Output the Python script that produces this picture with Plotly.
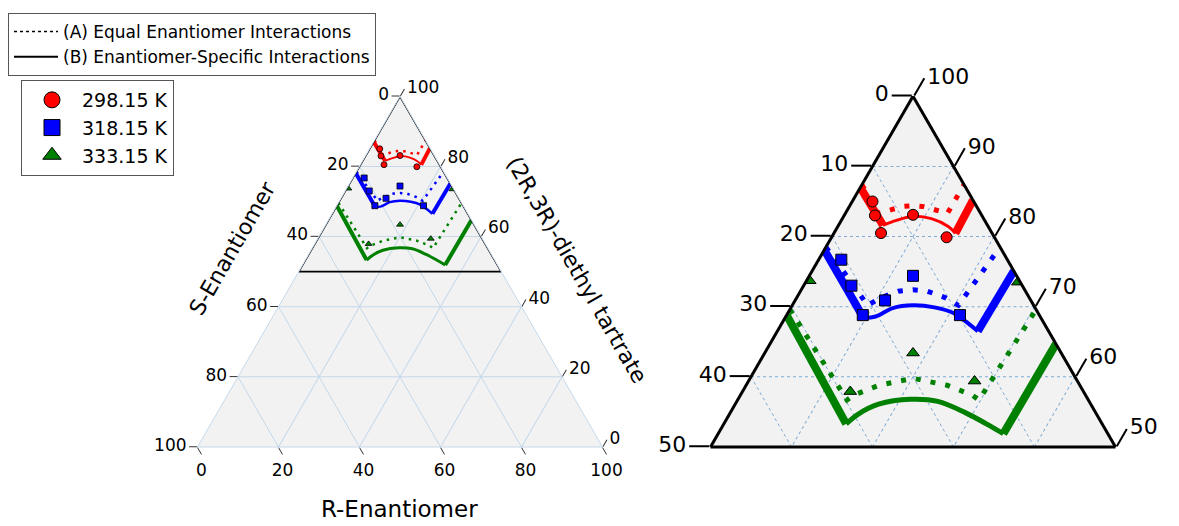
import plotly.graph_objects as go

# ---------------- data (mass %: (2R,3R)-diethyl tartrate, S-enantiomer, R-enantiomer) ----------------
# experimental points
pts298_tar = [85.0, 83.0, 80.5, 83.1, 79.9]
pts298_S = [12.5, 13.2, 13.7, 8.45, 5.9]
pts298_R = [2.5, 3.8, 5.8, 8.45, 14.2]

pts318_tar = [76.7, 73.0, 70.9, 68.8, 74.4, 68.8]
pts318_S = [20.5, 21.1, 18.0, 21.8, 12.8, 9.8]
pts318_R = [2.8, 5.9, 11.1, 9.4, 12.8, 21.4]

pts333_tar = [73.7, 73.5, 63.4, 57.9, 59.4]
pts333_S = [25.9, 0.3, 18.3, 28.8, 12.7]
pts333_R = [0.4, 26.2, 18.3, 13.3, 27.9]

# model (B) enantiomer-specific interactions: branches + middle curve
b298_branch_tar = [87.0, 81.6, None, 80.45, 85.2]
b298_branch_S = [13.0, 12.9, None, 4.55, 0.0]
b298_branch_R = [0.0, 5.5, None, 15.0, 14.8]
b298_mid_tar = [81.6, 82.3, 82.9, 82.55, 81.4, 80.45]
b298_mid_S = [12.9, 10.9, 8.55, 6.45, 4.9, 4.55]
b298_mid_R = [5.5, 6.8, 8.55, 11.0, 13.7, 15.0]

b318_branch_tar = [78.1, 68.4, None, 66.5, 75.1]
b318_branch_S = [21.9, 21.9, None, 8.75, 0.0]
b318_branch_R = [0.0, 9.7, None, 24.75, 24.9]
b318_mid_tar = [68.4, 68.6, 69.8, 70.2, 69.9, 69.1, 67.9, 66.5]
b318_mid_S = [21.9, 20.3, 17.6, 14.9, 12.4, 10.45, 9.55, 8.75]
b318_mid_R = [9.7, 11.1, 12.6, 14.9, 17.7, 20.45, 22.55, 24.75]

b333_branch_tar = [68.8, 53.3, None, 51.9, 64.7]
b333_branch_S = [31.2, 31.6, None, 12.9, 0.0]
b333_branch_R = [0.0, 15.1, None, 35.2, 35.3]
b333_mid_tar = [53.3, 54.7, 56.1, 56.8, 56.5, 54.9, 53.3, 51.9]
b333_mid_S = [31.6, 29.4, 26.2, 21.9, 18.7, 16.1, 14.3, 12.9]
b333_mid_R = [15.1, 15.9, 17.7, 21.3, 24.8, 29.0, 32.4, 35.2]

# model (A) equal enantiomer interactions (symmetric)
a298_tar = [87.4, 83.3, 83.9, 84.3, 84.4, 84.3, 83.9, 83.3, 87.4]
a298_S = [12.6, 12.6, 10.5, 9.0, 7.8, 6.7, 5.6, 4.1, 0.0]
a298_R = [0.0, 4.1, 5.6, 6.7, 7.8, 9.0, 10.5, 12.6, 12.6]

a318_tar = [78.5, 70.2, 71.3, 72.2, 72.4, 72.2, 71.3, 70.2, 78.5]
a318_S = [21.5, 20.5, 18.3, 15.7, 13.8, 12.1, 10.4, 9.3, 0.0]
a318_R = [0.0, 9.3, 10.4, 12.1, 13.8, 15.7, 18.3, 20.5, 21.5]

a333_tar = [69.6, 56.7, 57.4, 58.8, 59.8, 58.8, 57.4, 56.7, 69.6]
a333_S = [30.4, 29.8, 28.6, 24.8, 20.1, 16.4, 14.0, 13.5, 0.0]
a333_R = [0.0, 13.5, 14.0, 16.4, 20.1, 24.8, 28.6, 29.8, 30.4]

# zoom region outlined on the full diagram
zoom_tar = [100, 50, 50, 100]
zoom_S = [0, 50, 0, 0]
zoom_R = [0, 0, 50, 0]

# tick values (Plotly component value) and the labels shown for the component read along that edge
full_ticks = [0, 20, 40, 60, 80, 100]
full_labels = ["100", "80", "60", "40", "20", "0"]
zoom_a_ticks = [50, 60, 70, 80, 90, 100]
zoom_a_labels = ["50", "40", "30", "20", "10", "0"]     # S-enantiomer along left edge
zoom_c_ticks = [0, 10, 20, 30, 40, 50]
zoom_c_labels = ["100", "90", "80", "70", "60", "50"]   # tartrate along right edge

temps = ["298.15 K", "318.15 K", "333.15 K"]
colors = ["red", "blue", "green"]
symbols = ["circle", "square", "triangle-up"]

pts = [(pts298_tar, pts298_S, pts298_R), (pts318_tar, pts318_S, pts318_R), (pts333_tar, pts333_S, pts333_R)]
branches = [(b298_branch_tar, b298_branch_S, b298_branch_R), (b318_branch_tar, b318_branch_S, b318_branch_R),
            (b333_branch_tar, b333_branch_S, b333_branch_R)]
mids = [(b298_mid_tar, b298_mid_S, b298_mid_R), (b318_mid_tar, b318_mid_S, b318_mid_R),
        (b333_mid_tar, b333_mid_S, b333_mid_R)]
models_a = [(a298_tar, a298_S, a298_R), (a318_tar, a318_S, a318_R), (a333_tar, a333_S, a333_R)]

W, H = 1179, 526
OFF = 8  # page body margin
FONT = "DejaVu Sans"


def px(x):
    return (x - OFF) / W


def py(y):
    return 1 - (y - OFF) / H


fig = go.Figure()

styles = {
    "ternary": dict(branch_w=4, mid_w=[1.8, 2.5, 3], dot_w=2.5, dot_dash="2.5px,5px", msize=6, mline=0.8),
    "ternary2": dict(branch_w=8, mid_w=[3, 4, 5], dot_w=5, dot_dash="5px,10px", msize=11, mline=1),
}

for sp, st in styles.items():
    for i in range(3):
        t, s, r = models_a[i]
        fig.add_trace(go.Scatterternary(a=t, b=s, c=r, subplot=sp, mode="lines", showlegend=False,
                                        line=dict(color=colors[i], width=st["dot_w"], dash=st["dot_dash"]),
                                        hoverinfo="skip"))
        t, s, r = branches[i]
        fig.add_trace(go.Scatterternary(a=t, b=s, c=r, subplot=sp, mode="lines", showlegend=False,
                                        line=dict(color=colors[i], width=st["branch_w"]), hoverinfo="skip"))
        t, s, r = mids[i]
        fig.add_trace(go.Scatterternary(a=t, b=s, c=r, subplot=sp, mode="lines", showlegend=False,
                                        line=dict(color=colors[i], width=st["mid_w"][i], shape="spline"),
                                        hoverinfo="skip"))
    for i in range(3):
        t, s, r = pts[i]
        fig.add_trace(go.Scatterternary(a=t, b=s, c=r, subplot=sp, mode="markers", showlegend=False,
                                        marker=dict(color=colors[i], symbol=symbols[i], size=st["msize"],
                                                    line=dict(color="black", width=st["mline"])),
                                        hoverinfo="skip"))

# outline of zoomed region on the full diagram
fig.add_trace(go.Scatterternary(a=zoom_tar, b=zoom_S, c=zoom_R, subplot="ternary", mode="lines",
                                showlegend=False, line=dict(color="black", width=1.8), hoverinfo="skip"))

# legend-only entries
fig.add_trace(go.Scatterternary(a=[None], b=[None], c=[None], subplot="ternary2", mode="lines",
                                name="(A) Equal Enantiomer Interactions", legend="legend",
                                line=dict(color="black", width=1.5, dash="dot")))
fig.add_trace(go.Scatterternary(a=[None], b=[None], c=[None], subplot="ternary2", mode="lines",
                                name="(B) Enantiomer-Specific Interactions", legend="legend",
                                line=dict(color="black", width=2)))
for i in range(3):
    fig.add_trace(go.Scatterternary(a=[None], b=[None], c=[None], subplot="ternary2", mode="markers",
                                    name=temps[i], legend="legend2",
                                    marker=dict(color=colors[i], symbol=symbols[i], size=16,
                                                line=dict(color="black", width=1))))


def dom(cx, bottom, w):
    h = w * 3 ** 0.5 / 2
    return dict(x=[px(cx - w / 2), px(cx + w / 2)], y=[py(bottom), py(bottom - h)])


light_grid = "#c5d8ea"
full_axis = dict(showgrid=True, gridcolor=light_grid, gridwidth=1, showline=True, linecolor=light_grid,
                 linewidth=1, ticks="outside", ticklen=8, tickwidth=1.2, tickcolor="#333",
                 tickvals=full_ticks, ticktext=full_labels,
                 tickfont=dict(size=17, family=FONT, color="black"), title=dict(text=""))
zoom_axis = dict(showgrid=True, gridcolor="#7eaad4", gridwidth=1, griddash="dot", showline=True,
                 linecolor="black", linewidth=3, ticks="outside", ticklen=20, tickwidth=1.5, tickcolor="black",
                 tickfont=dict(size=22, family=FONT, color="black"), title=dict(text=""))

fig.update_layout(
    width=W, height=H, margin=dict(l=0, r=0, t=0, b=0), paper_bgcolor="white",
    font=dict(family=FONT, color="black"),
    ternary=dict(domain=dom(400, 447, 405), sum=100, bgcolor="#f2f2f2",
                 aaxis=full_axis, baxis=full_axis, caxis=full_axis),
    ternary2=dict(domain=dom(913, 447, 405), sum=100, bgcolor="#f2f2f2",
                  aaxis=dict(zoom_axis, min=50, tickvals=zoom_a_ticks, ticktext=zoom_a_labels),
                  baxis=dict(zoom_axis, tickvals=zoom_c_ticks, showticklabels=False, ticks=""),
                  caxis=dict(zoom_axis, tickvals=zoom_c_ticks, ticktext=zoom_c_labels)),
    legend=dict(x=px(8), y=py(13), xanchor="left", yanchor="top", bgcolor="white", bordercolor="#555",
                borderwidth=1, font=dict(size=17, family=FONT), tracegroupgap=0, itemwidth=44),
    legend2=dict(x=px(21), y=py(80), xanchor="left", yanchor="top", bgcolor="white", bordercolor="#555",
                 borderwidth=1, font=dict(size=19, family=FONT), itemwidth=50),
    annotations=[
        dict(text="S-Enantiomer", x=px(232), y=py(248), xref="paper", yref="paper", showarrow=False,
             xanchor="center", yanchor="middle", textangle=-60, font=dict(size=22, family=FONT)),
        dict(text="(2R,3R)-diethyl tartrate", x=px(577), y=py(269), xref="paper", yref="paper",
             xanchor="center", yanchor="middle", showarrow=False, textangle=60, font=dict(size=22, family=FONT)),
        dict(text="R-Enantiomer", x=px(400), y=py(509), xref="paper", yref="paper", showarrow=False,
             xanchor="center", yanchor="middle", font=dict(size=23, family=FONT)),
    ],
)

fig.write_html("out.html")
